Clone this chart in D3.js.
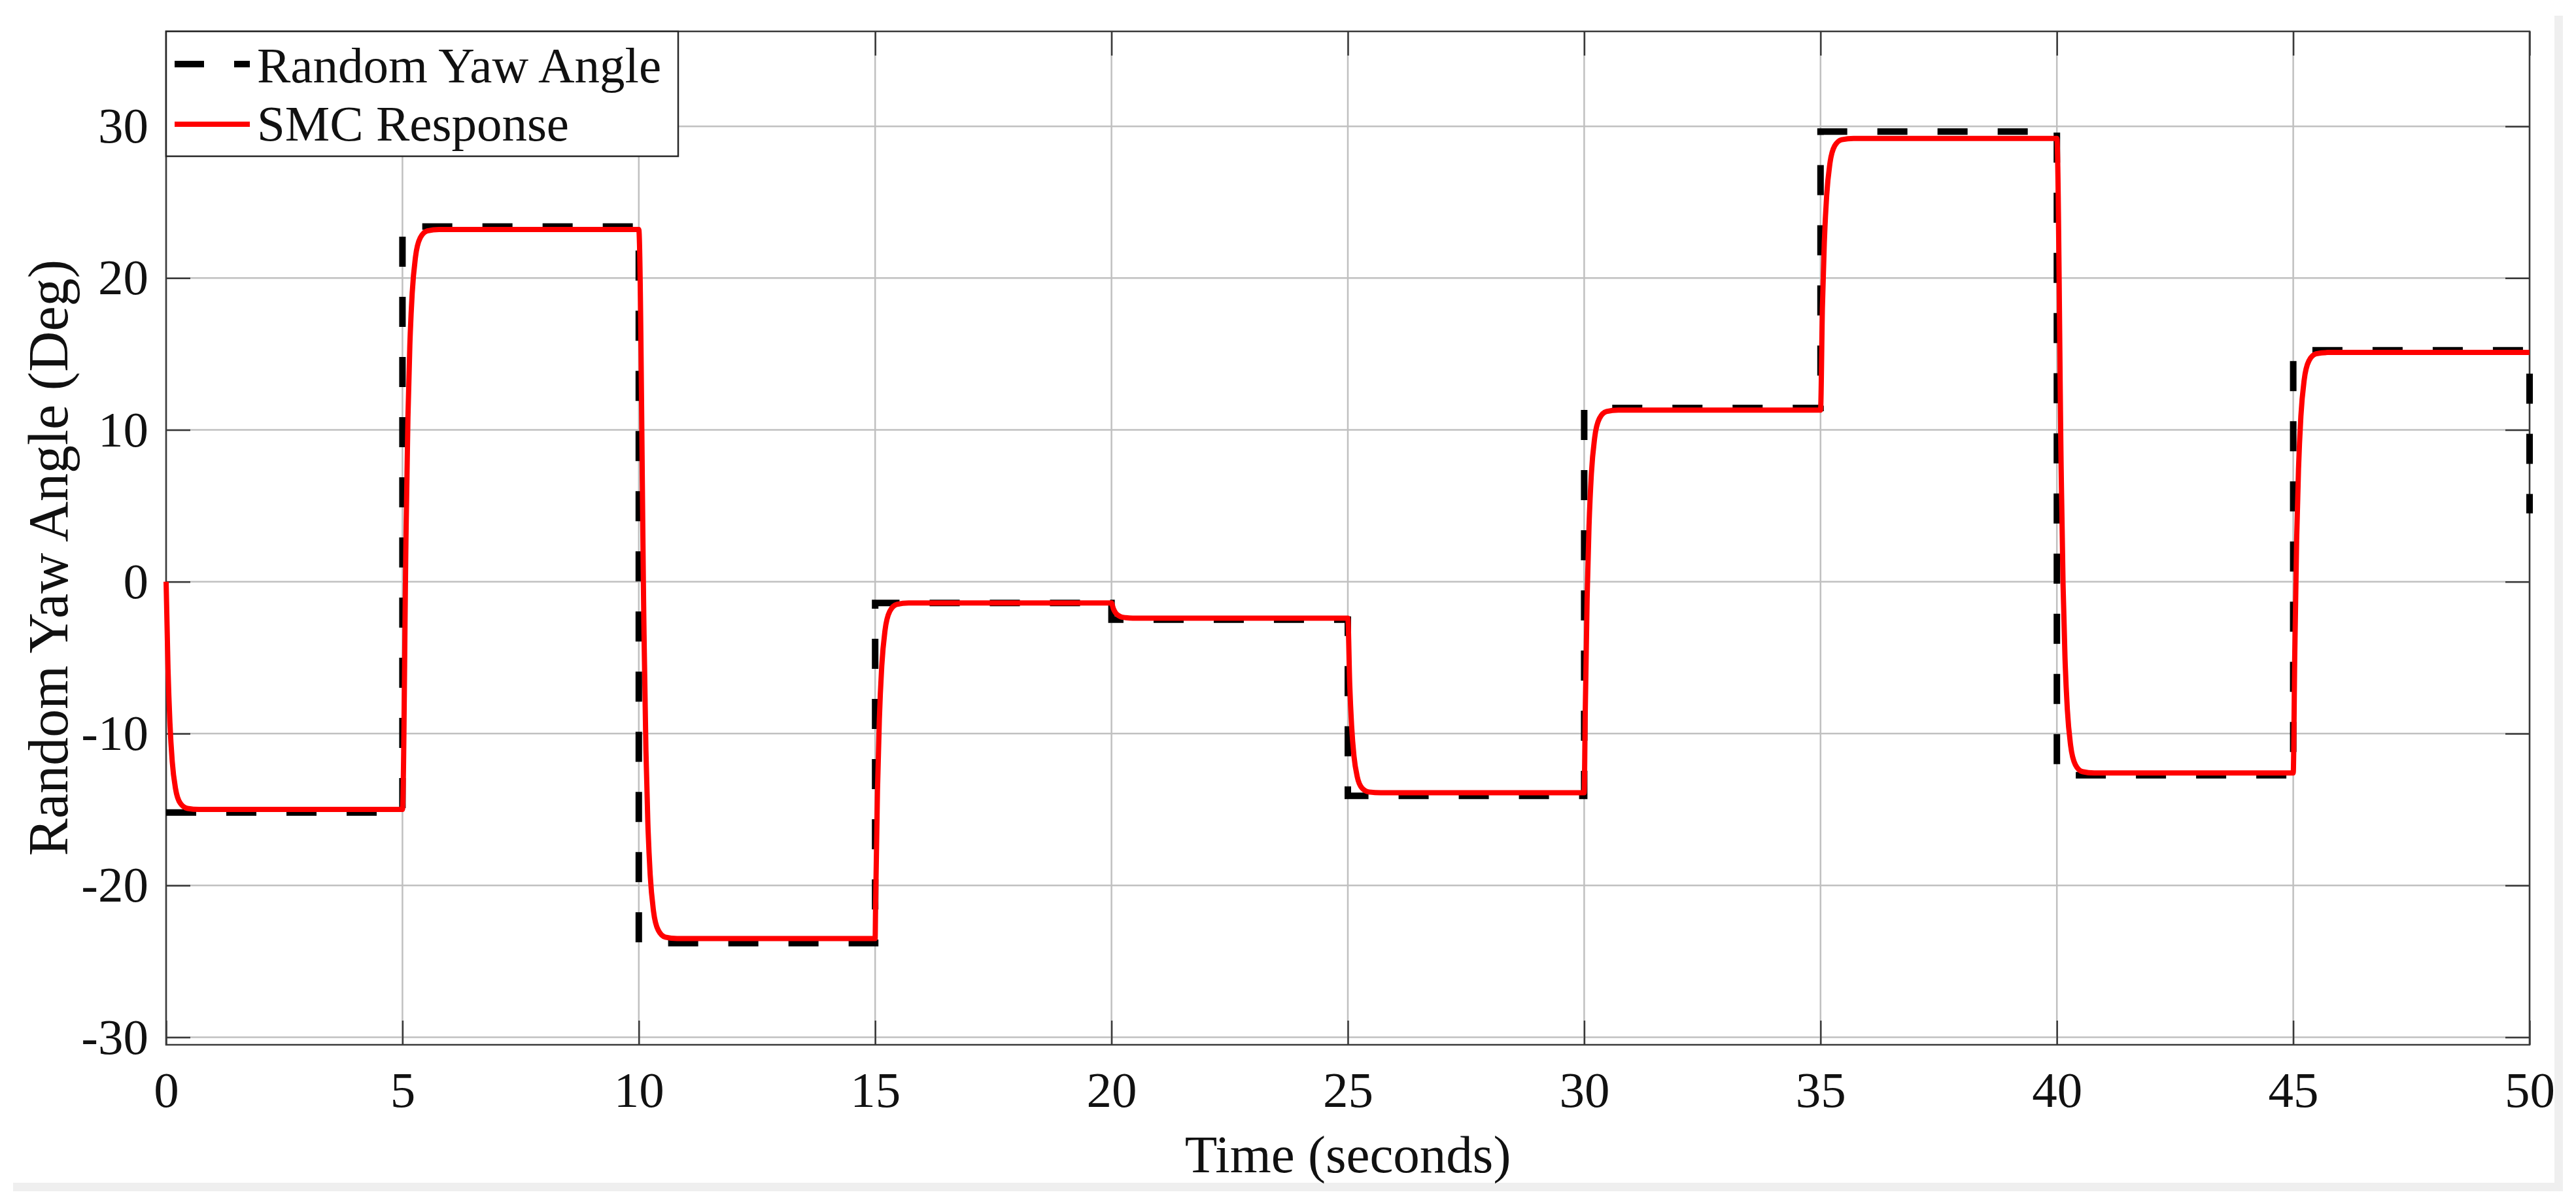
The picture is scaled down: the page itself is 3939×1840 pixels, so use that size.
<!DOCTYPE html>
<html>
<head>
<meta charset="utf-8">
<script src="https://cdn.jsdelivr.net/npm/d3@7"></script>
<style>
  html, body { margin: 0; padding: 0; background: #ffffff; }
  svg { display: block; }
  text { font-family: "Liberation Serif", "Times New Roman", serif; fill: #111; }
</style>
</head>
<body>
<svg id="chart" width="3939" height="1840"></svg>
<script>
// ---- data ----
const xTicks = [0, 5, 10, 15, 20, 25, 30, 35, 40, 45, 50];
const yTicks = [-30, -20, -10, 0, 10, 20, 30];

// Random yaw angle reference (step, held from each time)
const refTime  = [0, 5, 10, 15, 20, 25, 30, 35, 40, 45, 50];
const refAngle = [-15.2, 23.4, -23.8, -1.4, -2.5, -14.1, 11.45, 29.65, -12.75, 15.25, 4.5];

// SMC response
const smcTime = [
  0, 0.04, 0.08, 0.13, 0.2, 0.3, 0.45, 0.7, 5.0,
  5.076, 5.116, 5.156, 5.206, 5.276, 5.376, 5.526, 5.776, 10.0,
  10.111, 10.151, 10.191, 10.241, 10.311, 10.411, 10.561, 10.811, 15.0,
  15.009, 15.049, 15.089, 15.139, 15.209, 15.309, 15.459, 15.709, 20.0,
  20.04, 20.08, 20.13, 20.2, 20.3, 20.45, 20.7, 25.0,
  25.04, 25.08, 25.13, 25.2, 25.3, 25.45, 25.7, 30.0,
  30.022, 30.062, 30.102, 30.152, 30.222, 30.322, 30.472, 30.722, 35.0,
  35.04, 35.08, 35.13, 35.2, 35.3, 35.45, 35.7, 40.0,
  40.091, 40.131, 40.171, 40.221, 40.291, 40.391, 40.541, 40.791, 45.0,
  45.032, 45.072, 45.112, 45.162, 45.232, 45.332, 45.482, 45.732, 50.0
];
const smcAngle = [
  0, -5.72, -9.25, -11.85, -13.64, -14.59, -14.93, -15.0, -15.0,
  3.2, 10.82, 15.54, 19.0, 21.39, 22.65, 23.11, 23.2, 23.2,
  -3.5, -11.12, -15.84, -19.3, -21.69, -22.95, -23.41, -23.5, -23.5,
  -21.4, -13.78, -9.06, -5.6, -3.21, -1.95, -1.49, -1.4, -1.4,
  -1.78, -2.02, -2.19, -2.31, -2.37, -2.40, -2.4, -2.4,
  -6.78, -9.5, -11.49, -12.86, -13.59, -13.85, -13.9, -13.9,
  -8.7, -1.08, 3.64, 7.1, 9.49, 10.75, 11.21, 11.3, 11.3,
  18.12, 22.34, 25.44, 27.58, 28.71, 29.12, 29.2, 29.2,
  7.4, -0.22, -4.94, -8.4, -10.79, -12.05, -12.51, -12.6, -12.6,
  -4.9, 2.72, 7.44, 10.9, 13.29, 14.55, 15.01, 15.1, 15.1
];

const seriesNames = ["Random Yaw Angle", "SMC Response"];
const xLabel = "Time (seconds)";
const yLabel = "Random Yaw Angle (Deg)";

// ---- layout ----
const L = 254, R = 3868, T = 48, B = 1598;
const FS = 77;
const svg = d3.select("#chart");

// shadow frame
svg.append("rect").attr("x", 3906).attr("y", 24).attr("width", 13).attr("height", 1798).attr("fill", "#efefef");
svg.append("rect").attr("x", 20).attr("y", 1809).attr("width", 3899).attr("height", 13).attr("fill", "#efefef");

const x = d3.scaleLinear().domain([0, 50]).range([L, R]);
const y = d3.scaleLinear().domain([-30.5, 36.25]).range([B, T]);

// grid
const grid = svg.append("g");
grid.selectAll("line.gx").data(xTicks).join("line")
  .attr("x1", d => x(d)).attr("x2", d => x(d)).attr("y1", T).attr("y2", B)
  .attr("stroke", "#c0c0c0").attr("stroke-width", 2.5);
grid.selectAll("line.gy").data(yTicks).join("line")
  .attr("x1", L).attr("x2", R).attr("y1", d => y(d)).attr("y2", d => y(d))
  .attr("stroke", "#c0c0c0").attr("stroke-width", 2.5);

// axes
const fmt = d => String(d);
function styleAxis(g) {
  g.select(".domain").remove();
  g.selectAll(".tick line").attr("stroke", "#3a3a3a").attr("stroke-width", 2.5);
  g.selectAll(".tick text").attr("font-size", FS).attr("fill", "#111")
    .attr("font-family", "'Liberation Serif', 'Times New Roman', serif");
}
svg.append("g").attr("transform", `translate(0,${B})`)
  .call(d3.axisBottom(x).tickValues(xTicks).tickFormat(fmt).tickSize(-37).tickPadding(40))
  .call(styleAxis);
svg.append("g").attr("transform", `translate(0,${T})`)
  .call(d3.axisTop(x).tickValues(xTicks).tickFormat("").tickSize(-37))
  .call(styleAxis);
svg.append("g").attr("transform", `translate(${L},0)`)
  .call(d3.axisLeft(y).tickValues(yTicks).tickFormat(fmt).tickSize(-37).tickPadding(27))
  .call(styleAxis);
svg.append("g").attr("transform", `translate(${R},0)`)
  .call(d3.axisRight(y).tickValues(yTicks).tickFormat("").tickSize(-37))
  .call(styleAxis);

// box
svg.append("rect").attr("x", L).attr("y", T).attr("width", R - L).attr("height", B - T)
  .attr("fill", "none").attr("stroke", "#3a3a3a").attr("stroke-width", 2.5);

// data lines
const refData = refTime.map((t, i) => [t, refAngle[i]]);
const smcData = smcTime.map((t, i) => [t, smcAngle[i]]);

svg.append("path").datum(refData)
  .attr("d", d3.line().x(d => x(d[0])).y(d => y(d[1])).curve(d3.curveStepAfter))
  .attr("fill", "none").attr("stroke", "#000").attr("stroke-width", 10)
  .attr("stroke-dasharray", "46 46");

svg.append("path").datum(smcData)
  .attr("d", d3.line().x(d => x(d[0])).y(d => y(d[1])).curve(d3.curveMonotoneX))
  .attr("fill", "none").attr("stroke", "#ff0000").attr("stroke-width", 8)
  .attr("stroke-linejoin", "round");

// axis titles
svg.append("text").attr("x", (L + R) / 2).attr("y", 1793)
  .attr("text-anchor", "middle").attr("font-size", 81).text(xLabel);
svg.append("text").attr("transform", `translate(103,${853}) rotate(-90)`)
  .attr("text-anchor", "middle").attr("font-size", 86).text(yLabel);

// legend
const lg = svg.append("g");
lg.append("rect").attr("x", L).attr("y", T).attr("width", 783).attr("height", 191)
  .attr("fill", "#fff").attr("stroke", "#262626").attr("stroke-width", 2.5);
lg.append("line").attr("x1", 267).attr("x2", 382).attr("y1", 98).attr("y2", 98)
  .attr("stroke", "#000").attr("stroke-width", 10).attr("stroke-dasharray", "45 46");
lg.append("line").attr("x1", 267).attr("x2", 382).attr("y1", 190).attr("y2", 190)
  .attr("stroke", "#ff0000").attr("stroke-width", 8);
lg.append("text").attr("x", 393).attr("y", 126).attr("font-size", FS).text(seriesNames[0]);
lg.append("text").attr("x", 393).attr("y", 215).attr("font-size", FS).text(seriesNames[1]);
</script>
</body>
</html>
